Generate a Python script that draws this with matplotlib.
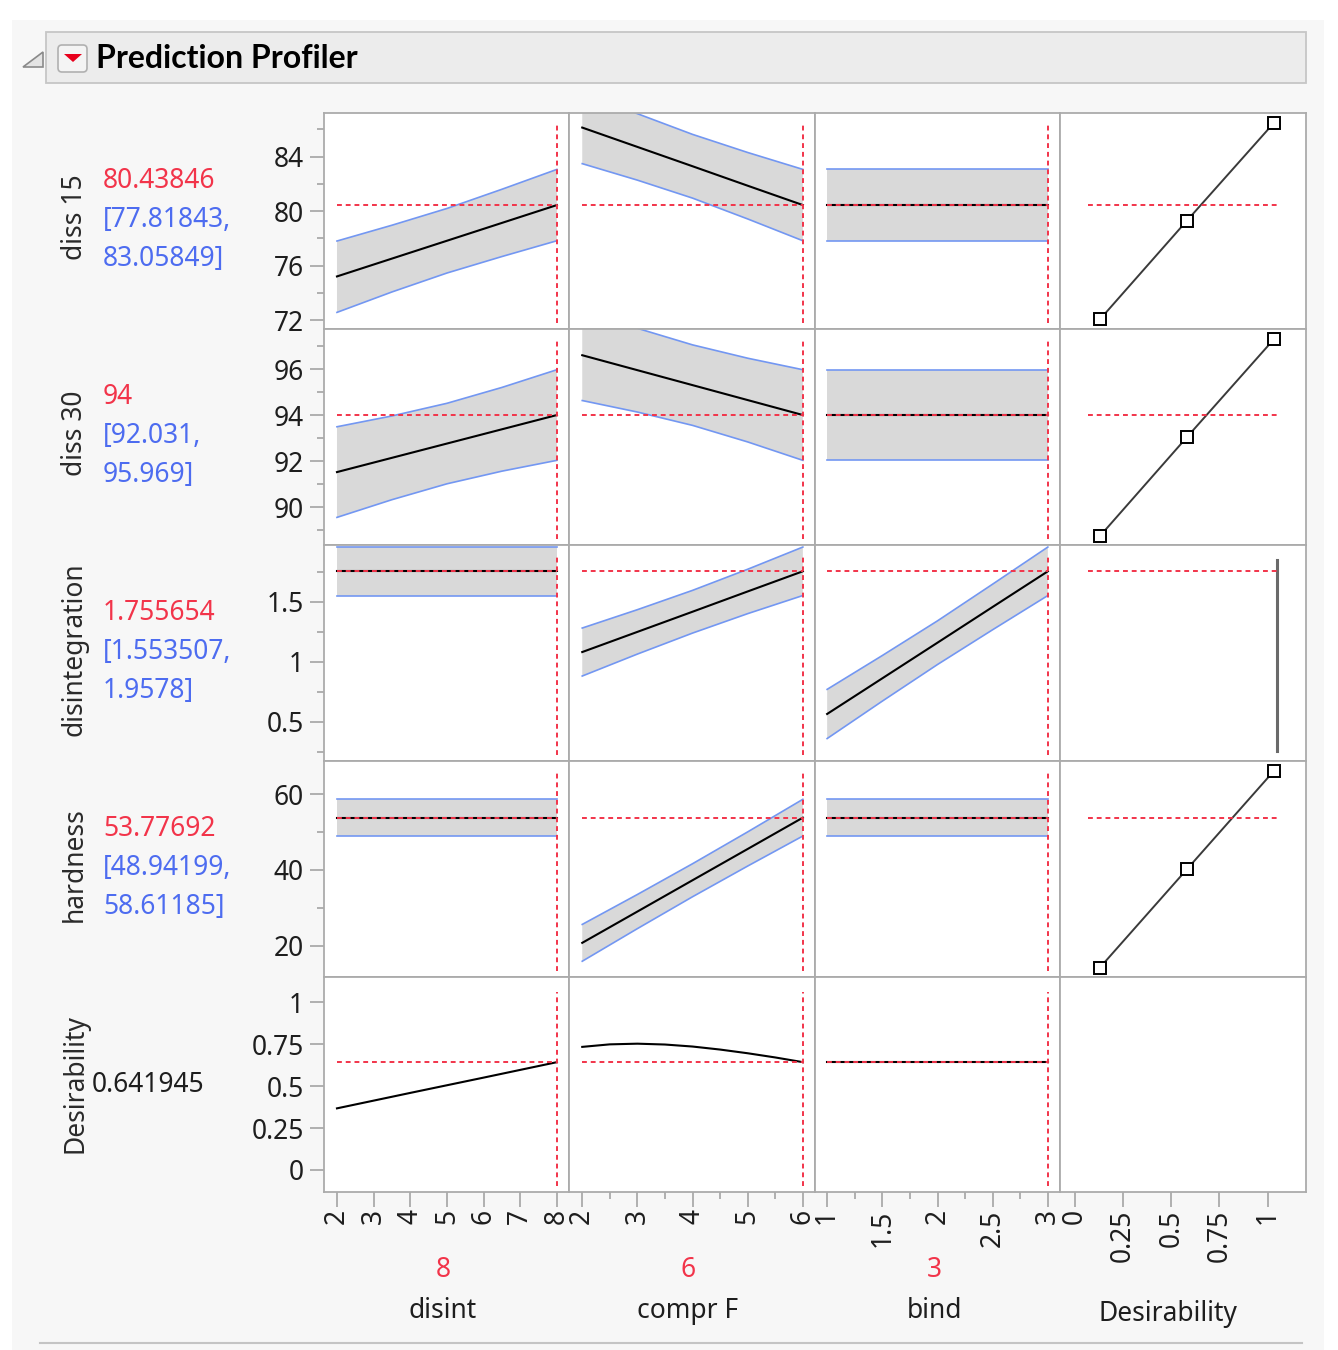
import matplotlib
matplotlib.use("Agg")
import matplotlib.pyplot as plt
from matplotlib.patches import Rectangle, FancyBboxPatch, Polygon

plt.rcParams['font.family'] = ['Noto Sans', 'DejaVu Sans']

# ---------------------------------------------------------------- data
factors = ["disint", "compr F", "bind"]
factor_current = [8, 6, 3]
factor_current_text = ["8", "6", "3"]

responses = ["diss 15", "diss 30", "disintegration", "hardness"]
response_current = [80.43846, 94.0, 1.755654, 53.77692]
response_current_text = ["80.43846", "94", "1.755654", "53.77692"]
response_ci_text = [("[77.81843,", "83.05849]"),
                    ("[92.031,", "95.969]"),
                    ("[1.553507,", "1.9578]"),
                    ("[48.94199,", "58.61185]")]
desirability_current = 0.641945
desirability_text = "0.641945"

# diss 15 profiles
diss15_disint_x = [2, 3.5, 5, 6.5, 8]
diss15_disint_pred = [75.20, 76.51, 77.82, 79.13, 80.44]
diss15_disint_lo = [72.56, 74.06, 75.45, 76.66, 77.82]
diss15_disint_hi = [77.80, 78.96, 80.19, 81.60, 83.06]
diss15_compr_x = [2, 3, 4, 5, 6]
diss15_compr_pred = [86.13, 84.71, 83.29, 81.86, 80.44]
diss15_compr_lo = [83.48, 82.27, 80.95, 79.42, 77.82]
diss15_compr_hi = [88.78, 87.15, 85.63, 84.30, 83.06]
diss15_bind_x = [1, 3]
diss15_bind_pred = [80.44, 80.44]
diss15_bind_lo = [77.82, 77.82]
diss15_bind_hi = [83.06, 83.06]

# diss 30 profiles
diss30_disint_x = [2, 3.5, 5, 6.5, 8]
diss30_disint_pred = [91.52, 92.14, 92.76, 93.38, 94.00]
diss30_disint_lo = [89.55, 90.32, 91.01, 91.56, 92.03]
diss30_disint_hi = [93.49, 93.96, 94.51, 95.20, 95.97]
diss30_compr_x = [2, 3, 4, 5, 6]
diss30_compr_pred = [96.60, 95.95, 95.30, 94.65, 94.00]
diss30_compr_lo = [94.63, 94.13, 93.55, 92.83, 92.03]
diss30_compr_hi = [98.57, 97.77, 97.05, 96.47, 95.97]
diss30_bind_x = [1, 3]
diss30_bind_pred = [94.0, 94.0]
diss30_bind_lo = [92.031, 92.031]
diss30_bind_hi = [95.969, 95.969]

# disintegration profiles
disintegr_disint_x = [2, 8]
disintegr_disint_pred = [1.7557, 1.7557]
disintegr_disint_lo = [1.5535, 1.5535]
disintegr_disint_hi = [1.9578, 1.9578]
disintegr_compr_x = [2, 3, 4, 5, 6]
disintegr_compr_pred = [1.083, 1.251, 1.419, 1.588, 1.756]
disintegr_compr_lo = [0.883, 1.066, 1.241, 1.403, 1.554]
disintegr_compr_hi = [1.283, 1.436, 1.597, 1.773, 1.958]
disintegr_bind_x = [1, 1.5, 2, 2.5, 3]
disintegr_bind_pred = [0.567, 0.864, 1.161, 1.459, 1.756]
disintegr_bind_lo = [0.362, 0.674, 0.979, 1.269, 1.554]
disintegr_bind_hi = [0.772, 1.054, 1.343, 1.649, 1.958]

# hardness profiles
hardness_disint_x = [2, 8]
hardness_disint_pred = [53.777, 53.777]
hardness_disint_lo = [48.942, 48.942]
hardness_disint_hi = [58.612, 58.612]
hardness_compr_x = [2, 3, 4, 5, 6]
hardness_compr_pred = [20.80, 29.04, 37.29, 45.53, 53.78]
hardness_compr_lo = [15.95, 24.54, 32.94, 41.03, 48.94]
hardness_compr_hi = [25.65, 33.54, 41.64, 50.03, 58.61]
hardness_bind_x = [1, 3]
hardness_bind_pred = [53.777, 53.777]
hardness_bind_lo = [48.942, 48.942]
hardness_bind_hi = [58.612, 58.612]

# overall desirability profiles
desir_disint_x = [2, 4, 6, 8]
desir_disint = [0.367, 0.459, 0.550, 0.642]
desir_compr_x = [2, 2.5, 3, 3.5, 4, 4.5, 5, 5.5, 6]
desir_compr = [0.733, 0.748, 0.752, 0.747, 0.735, 0.717, 0.695, 0.670, 0.642]
desir_bind_x = [1, 3]
desir_bind = [0.642, 0.642]

# desirability functions (desirability on x, response on y)
desir_fn_d = [0.0183, 0.5, 0.9817]
diss15_desir_y = [72.05, 79.3, 86.48]
diss30_desir_y = [88.74, 93.04, 97.3]
hardness_desir_y = [14.3, 40.2, 66.1]
disintegr_desir_d = [1.0, 1.0]
disintegr_desir_y = [0.26, 1.85]

# axis settings
row_ylim = [(71.34, 87.2), (88.35, 97.74), (0.175, 1.975), (11.8, 68.7), (-0.131, 1.149)]
row_major = [[72, 76, 80, 84], [90, 92, 94, 96], [0.5, 1, 1.5], [20, 40, 60],
             [0, 0.25, 0.5, 0.75, 1]]
row_major_text = [["72", "76", "80", "84"], ["90", "92", "94", "96"], ["0.5", "1", "1.5"],
                  ["20", "40", "60"], ["0", "0.25", "0.5", "0.75", "1"]]
row_minor = [[74, 78, 82, 86], [89, 91, 93, 95, 97], [0.25, 0.75, 1.25, 1.75], [30, 50], []]

col_xlim = [(1.646, 8.33), (1.76, 6.22), (0.89, 3.11), (-0.078, 1.2)]
col_major = [[2, 3, 4, 5, 6, 7, 8], [2, 3, 4, 5, 6], [1, 1.5, 2, 2.5, 3],
             [0, 0.25, 0.5, 0.75, 1]]
col_major_text = [["2", "3", "4", "5", "6", "7", "8"], ["2", "3", "4", "5", "6"],
                  ["1", "1.5", "2", "2.5", "3"], ["0", "0.25", "0.5", "0.75", "1"]]
col_minor = [[], [2.5, 3.5, 4.5, 5.5], [1.25, 1.75, 2.25, 2.75], []]
desir_fn_xlim = (-0.203, 1.159)
desir_fn_ref_span = (-0.05, 1.0)

# ---------------------------------------------------------------- styles
W, H = 1338, 1350
RED = '#f2344a'
BLUE = '#4d6cf0'
BAND_EDGE = '#7397f2'
BAND_FILL = '#d9d9d9'
FRAME = '#ababab'
TICK = '#9c9c9c'
TXT = '#1e1e1e'
FS = 19

col_edges = [324, 569, 815, 1060, 1306]
row_edges = [113, 329, 545, 761, 977, 1192]

fig = plt.figure(figsize=(W / 100, H / 100), dpi=100, facecolor='white')

# background canvas in pixel coordinates
bg = fig.add_axes([0, 0, 1, 1], zorder=-5)
bg.set_xlim(0, W)
bg.set_ylim(H, 0)
bg.axis('off')
bg.add_patch(Rectangle((12, 20), 1312, 1330, facecolor='#f7f7f7', edgecolor='none'))
bg.add_patch(Rectangle((46, 32), 1260, 51, facecolor='#ececec', edgecolor='#c6c6c6', lw=1.3))
bg.add_patch(Polygon([(43, 52), (43, 67), (23, 67)], closed=True,
                     facecolor='#e4e4e4', edgecolor='#8a8a8a', lw=1.2))
bg.add_patch(FancyBboxPatch((58, 45), 29, 27, boxstyle='round,pad=0,rounding_size=4',
                            facecolor='#f4f4f4', edgecolor='#b0b0b0', lw=1.2))
bg.add_patch(Polygon([(64, 54), (82, 54), (73, 62)], closed=True,
                     facecolor='#e8001c', edgecolor='none'))
bg.text(96, 58, "Prediction Profiler", fontsize=23, fontweight='bold', color='black',
        family=['Lato', 'DejaVu Sans'], ha='left', va='center')
bg.plot([40, 1302], [1343, 1343], color='#c4c4c4', lw=1.5)


def px_axes(x0, y0, x1, y1):
    return fig.add_axes([x0 / W, 1 - y1 / H, (x1 - x0) / W, (y1 - y0) / H])


def ref_line_kw():
    return dict(color=RED, lw=1.4, linestyle=(0, (2.5, 2.0)), zorder=4)


profiles = [
    [(diss15_disint_x, diss15_disint_pred, diss15_disint_lo, diss15_disint_hi),
     (diss15_compr_x, diss15_compr_pred, diss15_compr_lo, diss15_compr_hi),
     (diss15_bind_x, diss15_bind_pred, diss15_bind_lo, diss15_bind_hi)],
    [(diss30_disint_x, diss30_disint_pred, diss30_disint_lo, diss30_disint_hi),
     (diss30_compr_x, diss30_compr_pred, diss30_compr_lo, diss30_compr_hi),
     (diss30_bind_x, diss30_bind_pred, diss30_bind_lo, diss30_bind_hi)],
    [(disintegr_disint_x, disintegr_disint_pred, disintegr_disint_lo, disintegr_disint_hi),
     (disintegr_compr_x, disintegr_compr_pred, disintegr_compr_lo, disintegr_compr_hi),
     (disintegr_bind_x, disintegr_bind_pred, disintegr_bind_lo, disintegr_bind_hi)],
    [(hardness_disint_x, hardness_disint_pred, hardness_disint_lo, hardness_disint_hi),
     (hardness_compr_x, hardness_compr_pred, hardness_compr_lo, hardness_compr_hi),
     (hardness_bind_x, hardness_bind_pred, hardness_bind_lo, hardness_bind_hi)],
]
desir_profiles = [(desir_disint_x, desir_disint), (desir_compr_x, desir_compr),
                  (desir_bind_x, desir_bind)]
desir_functions = [(desir_fn_d, diss15_desir_y), (desir_fn_d, diss30_desir_y),
                   None, (desir_fn_d, hardness_desir_y)]

for r in range(5):
    for c in range(4):
        ax = px_axes(col_edges[c], row_edges[r], col_edges[c + 1], row_edges[r + 1])
        ax.set_facecolor('white')
        for s in ax.spines.values():
            s.set_color(FRAME)
            s.set_linewidth(1.3)
        ax.set_ylim(*row_ylim[r])
        if c < 3:
            ax.set_xlim(*col_xlim[c])
        elif r < 4:
            ax.set_xlim(*desir_fn_xlim)
        else:
            ax.set_xlim(*col_xlim[3])

        # ticks: y on the first column, x on the bottom row
        ax.tick_params(which='both', left=False, bottom=False, labelleft=False,
                       labelbottom=False)
        if c == 0:
            ax.set_yticks(row_major[r])
            ax.set_yticklabels(row_major_text[r])
            ax.set_yticks(row_minor[r], minor=True)
            ax.tick_params(axis='y', which='major', left=True, labelleft=True,
                           length=10, width=1.1, color=TICK, pad=4.5,
                           labelsize=FS, labelcolor=TXT)
            ax.tick_params(axis='y', which='minor', left=True, length=5, width=1.1,
                           color=TICK)
        else:
            ax.set_yticks([])
        if r == 4:
            ax.set_xticks(col_major[c])
            ax.set_xticklabels(col_major_text[c], rotation=90)
            ax.set_xticks(col_minor[c], minor=True)
            ax.tick_params(axis='x', which='major', bottom=True, labelbottom=True,
                           length=10.5, width=1.1, color=TICK, pad=2,
                           labelsize=FS, labelcolor=TXT)
            ax.tick_params(axis='x', which='minor', bottom=True, length=5, width=1.1,
                           color=TICK)
        else:
            ax.set_xticks([])

        if r < 4 and c < 3:
            x, pred, lo, hi = profiles[r][c]
            ax.fill_between(x, lo, hi, facecolor=BAND_FILL, edgecolor='none', zorder=1)
            ax.plot(x, lo, color=BAND_EDGE, lw=1.2, zorder=2)
            ax.plot(x, hi, color=BAND_EDGE, lw=1.2, zorder=2)
            ax.plot(x, pred, color='black', lw=1.5, zorder=3)
            ax.plot([x[0], x[-1]], [response_current[r]] * 2, **ref_line_kw())
            ax.axvline(factor_current[c], ymin=0.03, ymax=0.95, **ref_line_kw())
        elif r == 4 and c < 3:
            x, d = desir_profiles[c]
            ax.plot(x, d, color='black', lw=1.5, zorder=3)
            ax.plot([x[0], x[-1]], [desirability_current] * 2, **ref_line_kw())
            ax.axvline(factor_current[c], ymin=0.03, ymax=0.93, **ref_line_kw())
        elif r < 4 and c == 3:
            ax.plot(desir_fn_ref_span, [response_current[r]] * 2, **ref_line_kw())
            fn = desir_functions[r]
            if fn is not None:
                ax.plot(fn[0], fn[1], color='#3a3a3a', lw=1.4, zorder=3,
                        marker='s', markersize=8, markerfacecolor='white',
                        markeredgecolor='black', markeredgewidth=1.4)
            else:
                ax.plot(disintegr_desir_d, disintegr_desir_y, color='#6a6a6a', lw=2.2,
                        zorder=3)

# response names and current predictions on the left
row_centers = [(row_edges[i] + row_edges[i + 1]) / 2 for i in range(5)]
for i, name in enumerate(responses):
    yc = row_centers[i]
    fig.text(75 / W, 1 - (yc - 4) / H, name, rotation=90, ha='center', va='center',
             fontsize=FS, color='#2a2a2a')
    fig.text(103 / W, 1 - (yc - 40) / H, response_current_text[i], ha='left', va='center',
             fontsize=FS, color=RED)
    fig.text(103 / W, 1 - (yc - 1) / H, response_ci_text[i][0], ha='left', va='center',
             fontsize=FS, color=BLUE)
    fig.text(103 / W, 1 - (yc + 38) / H, response_ci_text[i][1], ha='left', va='center',
             fontsize=FS, color=BLUE)
fig.text(75 / W, 1 - (row_centers[4] - 1) / H, "Desirability", rotation=90, ha='center',
         va='center', fontsize=FS, color='#2a2a2a')
fig.text(92 / W, 1 - row_centers[4] / H, desirability_text, ha='left', va='center',
         fontsize=FS, color=TXT)

# factor names and current settings along the bottom
label_x = [443, 688, 934]
for i, name in enumerate(factors):
    fig.text(label_x[i] / W, 1 - 1270 / H, factor_current_text[i], ha='center',
             va='center', fontsize=FS, color=RED)
    fig.text(label_x[i] / W, 1 - 1311 / H, name, ha='center', va='center',
             fontsize=FS, color=TXT)
fig.text(1168 / W, 1 - 1314 / H, "Desirability", ha='center', va='center',
         fontsize=FS, color=TXT)

fig.savefig("out.png", dpi=100, facecolor=fig.get_facecolor())
